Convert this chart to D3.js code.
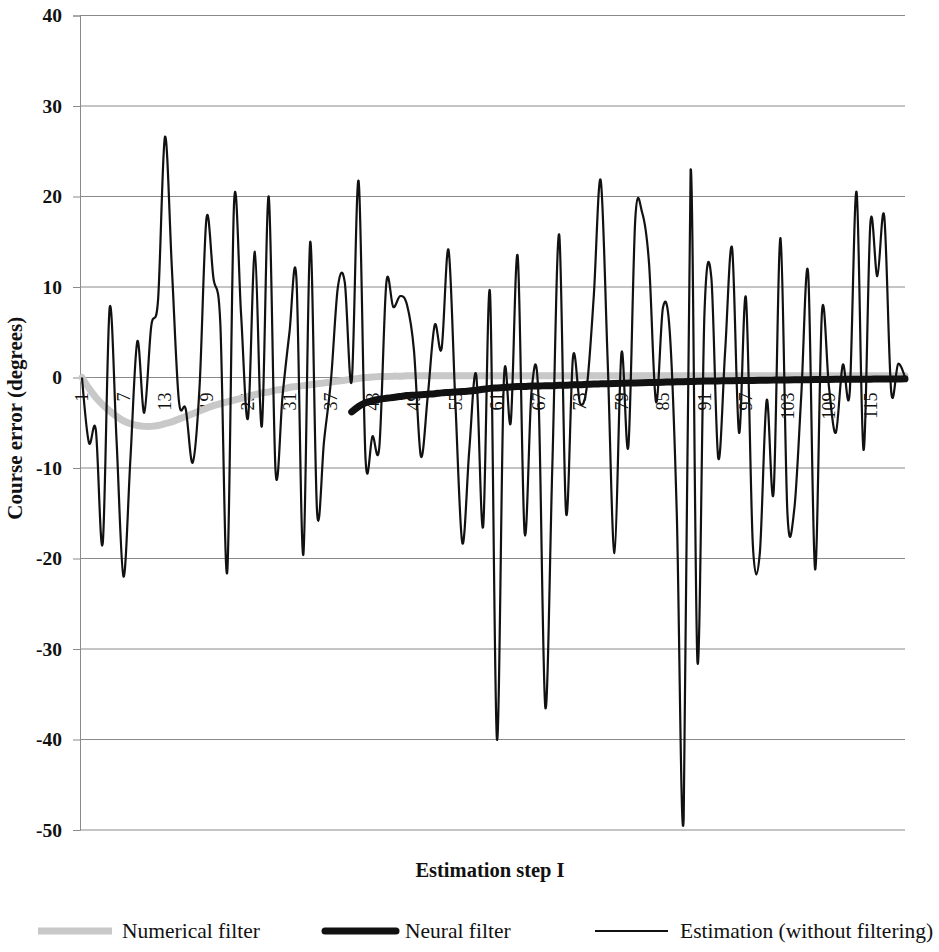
<!DOCTYPE html>
<html><head><meta charset="utf-8">
<script src="https://cdn.jsdelivr.net/npm/d3@7"></script>
<style>body{margin:0;background:#fff}</style>
</head><body>
<svg id="c" width="939" height="952"></svg>
<script>
const steps = d3.range(1, 121);
const estimation = [0,-7.2,-5.8,-18.3,7.7,-7,-22,-9,4.0,-3.9,
5.6,8.6,26.6,12,-2.5,-3.5,-9.4,-1,17.6,11,
6,-21.5,19.5,7,-4.5,13.9,-5.4,20.0,-10.5,-2,
5,11,-19.6,15.0,-15.0,-7,-0.3,10,10.5,-0.4,
21.7,-9,-6.5,-7.6,10.4,7.8,9.0,8,3,-8.7,
-2,5.8,3.2,14.1,-3,-18.3,-8,0.3,-16.5,9.3,
-40,-0.3,-4.9,13.4,-17.2,-1.5,-2,-36.5,-10,15.8,
-15.0,2.3,-2.8,-1,9,21.8,2,-19.4,2.7,-7.6,
17.5,18.2,12.5,-2.7,7.7,4.9,-15,-48.7,22.9,-31.5,
7,11,-8.9,3,14.3,-6.1,8.8,-18.5,-19.5,-2.5,
-12.7,15.4,-15,-14.5,-2,11.5,-21.2,7.3,-1,-6.1,
1.4,-1.7,20.5,-8.0,17.1,11.2,17.8,-1.5,1.5,0];
const numerical = [0,-1.2,-2.2,-3.0,-3.7,-4.3,-4.8,-5.1,-5.3,-5.4,
-5.4,-5.3,-5.1,-4.9,-4.6,-4.3,-4.0,-3.7,-3.4,-3.1,
-2.9,-2.7,-2.5,-2.3,-2.1,-1.9,-1.7,-1.6,-1.4,-1.3,
-1.1,-1.0,-0.9,-0.8,-0.7,-0.6,-0.5,-0.4,-0.3,-0.2,
-0.1,0,0.05,0.1,0.1,0.15,0.15,0.2,0.2,0.2,
0.2,0.2,0.2,0.2,0.2,0.2,0.2,0.2,0.2,0.2,
0.2,0.2,0.2,0.2,0.2,0.2,0.2,0.2,0.2,0.2,
0.2,0.2,0.2,0.2,0.2,0.2,0.2,0.2,0.2,0.2,
0.2,0.2,0.2,0.2,0.2,0.2,0.2,0.2,0.2,0.2,
0.2,0.2,0.2,0.2,0.2,0.2,0.2,0.2,0.2,0.2,
0.2,0.2,0.2,0.2,0.2,0.2,0.2,0.2,0.2,0.2,
0.2,0.2,0.2,0.2,0.2,0.2,0.2,0.2,0.2,0.2];
const neural = [null,null,null,null,null,null,null,null,null,null,
null,null,null,null,null,null,null,null,null,null,
null,null,null,null,null,null,null,null,null,null,
null,null,null,null,null,null,null,null,null,-3.8,
-3.2,-2.8,-2.55,-2.4,-2.3,-2.2,-2.1,-2.0,-1.95,-1.9,
-1.85,-1.8,-1.7,-1.65,-1.6,-1.55,-1.5,-1.4,-1.3,-1.2,
-1.15,-1.1,-1.05,-1.0,-1.0,-0.95,-0.95,-0.9,-0.9,-0.85,
-0.85,-0.8,-0.8,-0.75,-0.72,-0.7,-0.68,-0.66,-0.64,-0.62,
-0.6,-0.58,-0.56,-0.54,-0.52,-0.5,-0.48,-0.46,-0.44,-0.42,
-0.4,-0.39,-0.38,-0.36,-0.35,-0.34,-0.33,-0.32,-0.31,-0.3,
-0.29,-0.28,-0.27,-0.26,-0.25,-0.24,-0.23,-0.22,-0.21,-0.2,
-0.2,-0.19,-0.19,-0.18,-0.18,-0.17,-0.17,-0.16,-0.16,-0.15];
const yTicks = [40,30,20,10,0,-10,-20,-30,-40,-50];
const xTickLabels = [1,7,13,19,25,31,37,43,49,55,61,67,73,79,85,91,97,103,109,115];
const seriesNames = ["Numerical filter","Neural filter","Estimation (without filtering)"];

const svg = d3.select("#c");
const font = "'Liberation Serif','Times New Roman',serif";
const x = d3.scaleLinear().domain([1,120]).range([82,905]);
const y = d3.scaleLinear().domain([-50,40]).range([830,15.5]);
const L = 80, R = 905;

// gridlines
svg.append("g").selectAll("line").data(yTicks).join("line")
  .attr("x1",L).attr("x2",R).attr("y1",d=>y(d)).attr("y2",d=>y(d))
  .attr("stroke","#8a8a8a").attr("stroke-width",1);
// y axis
const yAxis = svg.append("g").attr("transform",`translate(${L},0)`)
  .call(d3.axisLeft(y).tickValues(yTicks).tickSize(7).tickPadding(11).tickFormat(d=>String(d)));
yAxis.select(".domain").attr("stroke","#8a8a8a");
yAxis.selectAll(".tick line").attr("stroke","#8a8a8a");
yAxis.selectAll("text").attr("font-family",font).attr("font-size",19.5).attr("font-weight","bold").attr("fill","#111");

// x axis at zero (labels rotated)
svg.append("line").attr("x1",L).attr("x2",R).attr("y1",y(0)).attr("y2",y(0)).attr("stroke","#8a8a8a");
svg.append("g").selectAll("text").data(xTickLabels).join("text")
  .attr("transform",d=>`translate(${x(d)},${y(0)+15}) rotate(-90)`)
  .attr("text-anchor","end").attr("dy","0.35em")
  .attr("font-family",font).attr("font-size",18).attr("fill","#111").text(d=>d);

// series
const lineNum = d3.line().x((d,i)=>x(steps[i])).y(d=>y(d)).curve(d3.curveCatmullRom.alpha(0));
svg.append("path").attr("d",lineNum(numerical)).attr("fill","none")
  .attr("stroke","#c8c8c8").attr("stroke-width",7).attr("stroke-linecap","round");
const lineEst = d3.line().x((d,i)=>x(steps[i])).y(d=>y(d)).curve(d3.curveCardinal.tension(0));
svg.append("path").attr("d",lineEst(estimation)).attr("fill","none")
  .attr("stroke","#111").attr("stroke-width",2.2).attr("stroke-linejoin","round");
const lineNeu = d3.line().defined(d=>d!==null).x((d,i)=>x(steps[i])).y(d=>y(d)).curve(d3.curveCatmullRom.alpha(0));
svg.append("path").attr("d",lineNeu(neural)).attr("fill","none")
  .attr("stroke","#111").attr("stroke-width",7).attr("stroke-linecap","round");

// axis titles
svg.append("text").attr("transform",`translate(22,${y(-4.5)}) rotate(-90)`)
  .attr("text-anchor","middle").attr("font-family",font).attr("font-weight","bold")
  .attr("font-size",21).attr("fill","#111").text("Course error (degrees)");
svg.append("text").attr("x",490).attr("y",877).attr("text-anchor","middle")
  .attr("font-family",font).attr("font-weight","bold").attr("font-size",20.5)
  .attr("fill","#111").text("Estimation step I");

// legend
const leg = [
  {name:seriesNames[0], x1:38, x2:112, tx:122, color:"#c8c8c8", w:7, cap:"butt"},
  {name:seriesNames[1], x1:325, x2:396, tx:405, color:"#111", w:7, cap:"round"},
  {name:seriesNames[2], x1:595, x2:668, tx:680, color:"#111", w:2, cap:"butt"}];
const lg = svg.append("g").selectAll("g").data(leg).join("g");
lg.append("line").attr("x1",d=>d.x1).attr("x2",d=>d.x2).attr("y1",931).attr("y2",931)
  .attr("stroke",d=>d.color).attr("stroke-width",d=>d.w).attr("stroke-linecap",d=>d.cap);
lg.append("text").attr("x",d=>d.tx).attr("y",938).attr("font-family",font).attr("font-size",21.5)
  .attr("fill","#111").text(d=>d.name);
</script>
</body></html>
